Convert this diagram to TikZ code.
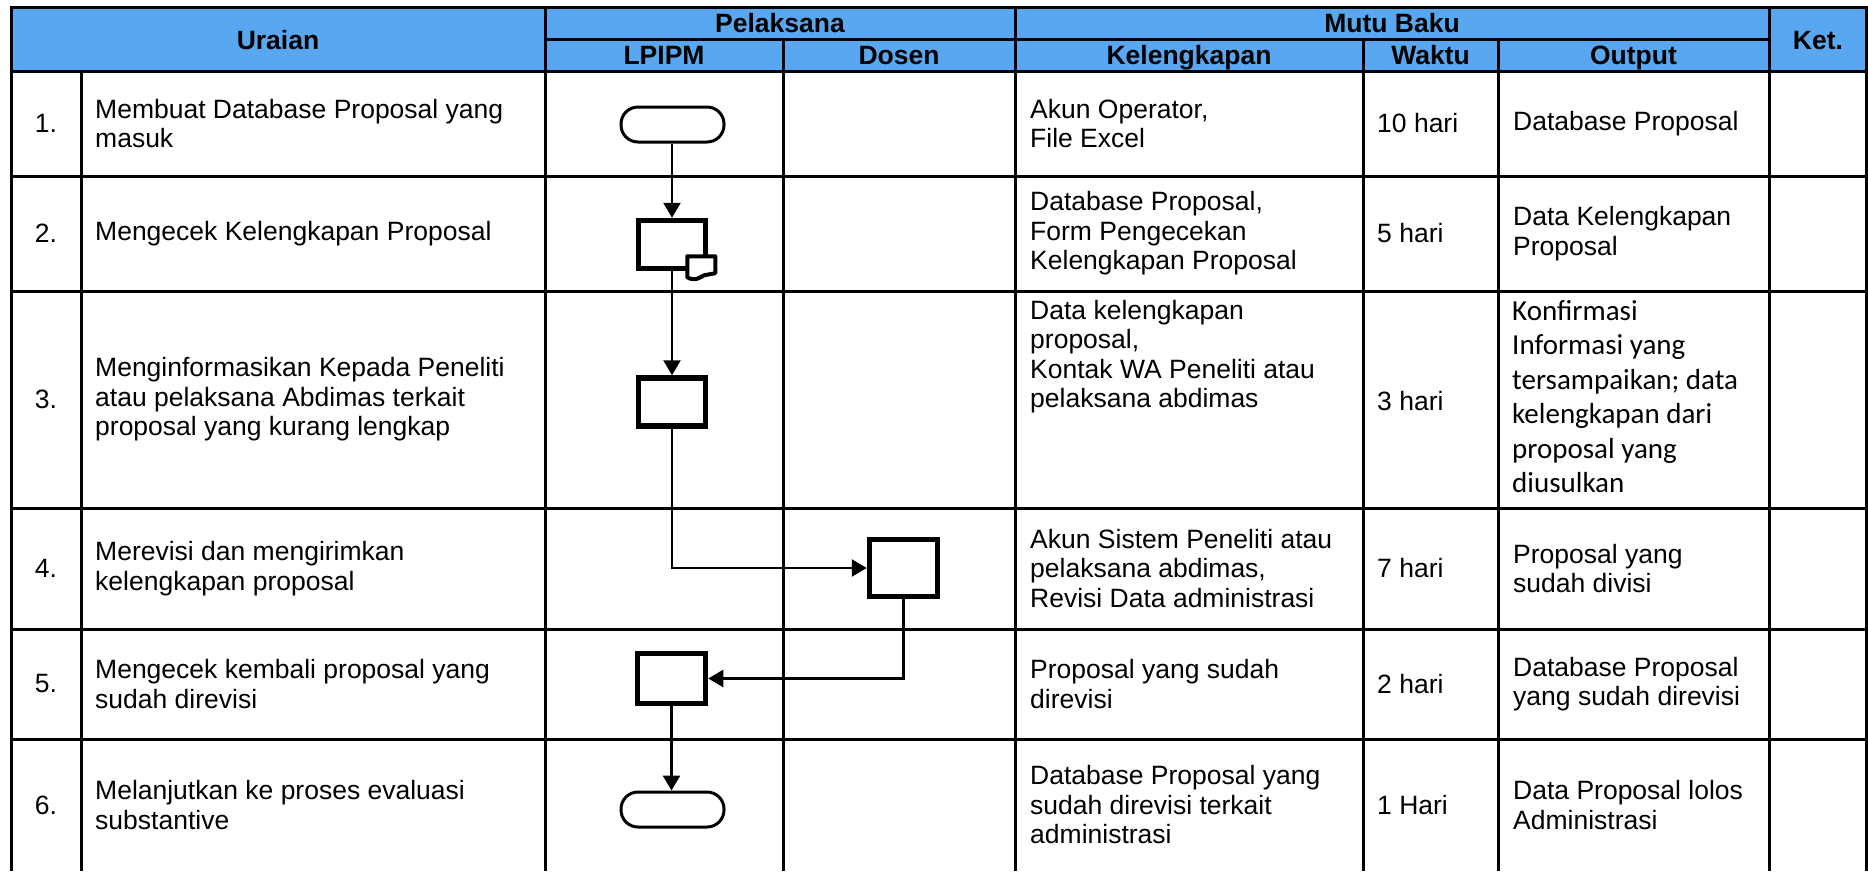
\documentclass[tikz,border=0pt]{standalone}
\usepackage{fontspec}
\setmainfont{Liberation Sans}
\newfontfamily\calibrifont{Carlito}
\usetikzlibrary{arrows.meta}
\definecolor{hdrblue}{RGB}{88,167,240}
\begin{document}
\begin{tikzpicture}[x=1pt,y=-1pt,
  grid/.style={line width=3pt},
  hdr/.style={font=\fontsize{26.5}{30}\selectfont\bfseries, inner sep=0, anchor=base},
  cell/.style={font=\fontsize{26.5}{29.5}\selectfont, align=left, inner sep=0, anchor=west},
  num/.style={font=\fontsize{26.5}{29.5}\selectfont, inner sep=0},
  procbox/.style={draw, line width=5.5pt, fill=white, minimum width=67pt, minimum height=48pt, inner sep=0},
  term/.style={draw, line width=3pt, fill=white, rounded corners=17pt, minimum width=103pt, minimum height=35pt, inner sep=0},
  flow/.style={line width=2.6pt, -{Triangle[length=15pt,width=17pt]}},
]
\useasboundingbox (0,0) rectangle (1868,871);
% header background
\fill[hdrblue] (11,7) rectangle (1866,71);
% grid
\draw[grid] (11,871) -- (11,7) -- (1866,7) -- (1866,871);
\draw[grid] (11,71) -- (1866,71);
\draw[grid] (545,39) -- (1769,39);
\foreach \yy in {176,291,508,629,739} {\draw[grid] (11,\yy) -- (1866,\yy);}
\foreach \xx in {545,1015,1769} {\draw[grid] (\xx,7) -- (\xx,871);}
\foreach \xx in {783,1363,1498} {\draw[grid] (\xx,39) -- (\xx,871);}
\draw[grid] (81,71) -- (81,871);
% header texts
\node[hdr] (hU) at (278,49) {Uraian};
\node[hdr] (hP) at (780,32.5) {Pelaksana};
\node[hdr] (hL) at (664,64.5) {LPIPM};
\node[hdr] (hD) at (899,64.5) {Dosen};
\node[hdr] (hM) at (1392,32.5) {Mutu Baku};
\node[hdr] (hK) at (1189,64.5) {Kelengkapan};
\node[hdr] (hW) at (1430.5,64.5) {Waktu};
\node[hdr] (hO) at (1633.5,64.5) {Output};
\node[hdr] (hKet) at (1818,49) {Ket.};
% numbers
\node[num] (n1) at (46,123.5) {1.};
\node[num] (n2) at (46,233.5) {2.};
\node[num] (n3) at (46,399.5) {3.};
\node[num] (n4) at (46,568.5) {4.};
\node[num] (n5) at (46,684) {5.};
\node[num] (n6) at (46,805) {6.};
% uraian
\node[cell] (u1) at (95,123.5) {Membuat Database Proposal yang\\masuk};
\node[cell] (u2) at (95,233.5) {Mengecek Kelengkapan Proposal};
\node[cell] (u3) at (95,399.5) {Menginformasikan Kepada Peneliti\\atau pelaksana Abdimas terkait\\proposal yang kurang lengkap};
\node[cell] (u4) at (95,568.5) {Merevisi dan mengirimkan\\kelengkapan proposal};
\node[cell] (u5) at (95,684) {Mengecek kembali proposal yang\\sudah direvisi};
\node[cell] (u6) at (95,805) {Melanjutkan ke proses evaluasi\\substantive};
% kelengkapan
\node[cell] (k1) at (1030,123.5) {Akun Operator,\\File Excel};
\node[cell] (k2) at (1030,233.5) {Database Proposal,\\Form Pengecekan\\Kelengkapan Proposal};
\node[cell, anchor=north west] (k3) at (1030,300) {Data kelengkapan\\proposal,\\Kontak WA Peneliti atau\\pelaksana abdimas};
\node[cell] (k4) at (1030,568.5) {Akun Sistem Peneliti atau\\pelaksana abdimas,\\Revisi Data administrasi};
\node[cell] (k5) at (1030,684) {Proposal yang sudah\\direvisi};
\node[cell] (k6) at (1030,805) {Database Proposal yang\\sudah direvisi terkait\\administrasi};
% waktu
\node[cell] (w1) at (1377,123.5) {10 hari};
\node[cell] (w2) at (1377,233.5) {5 hari};
\node[cell] (w3) at (1377,401) {3 hari};
\node[cell] (w4) at (1377,568.5) {7 hari};
\node[cell] (w5) at (1377,684) {2 hari};
\node[cell] (w6) at (1377,805) {1 Hari};
% output
\node[cell] (o1) at (1513,123.5) {Database Proposal};
\node[cell] (o2) at (1513,233.5) {Data Kelengkapan\\Proposal};
\node[cell, anchor=north west, font=\calibrifont\fontsize{29}{34.5}\selectfont] (o3) at (1512,300) {Konfirmasi\\Informasi yang\\tersampaikan; data\\kelengkapan dari\\proposal yang\\diusulkan};
\node[cell] (o4) at (1513,568.5) {Proposal yang\\sudah divisi};
\node[cell] (o5) at (1513,684) {Database Proposal\\yang sudah direvisi};
\node[cell] (o6) at (1513,805) {Data Proposal lolos\\Administrasi};
% flowchart shapes
\node[term] (t1) at (672.5,124.5) {};
\node[procbox] (b2) at (672,244.5) {};
\begin{scope}[shift={(b2.south east)}]
\filldraw[fill=white, line width=4pt, line join=round]
  (-21,6) -- (-21,-15) -- (7,-15) -- (7,2) -- (-4,4)
  .. controls (-8,6) and (-11,8) .. (-14,8)
  .. controls (-17,8) and (-20,7) .. (-21,6) -- cycle;
\end{scope}
\node[procbox] (b3) at (672,402) {};
\node[procbox, minimum height=57pt, minimum width=68pt] (b4) at (903.5,568) {};
\node[procbox, minimum height=50pt, minimum width=68pt] (b5) at (671.5,678.5) {};
\node[term] (t6) at (672.5,809.5) {};
% connectors
\draw[flow] (t1.south -| b2.north) -- (b2.north);
\draw[flow] (b2.south) -- (b3.north);
\draw[flow] (b3.south) |- (b4.west);
\draw[flow] (b4.south) |- (b5.east);
\draw[flow] (b5.south) -- (b5.south |- t6.north);
\end{tikzpicture}
\end{document}
